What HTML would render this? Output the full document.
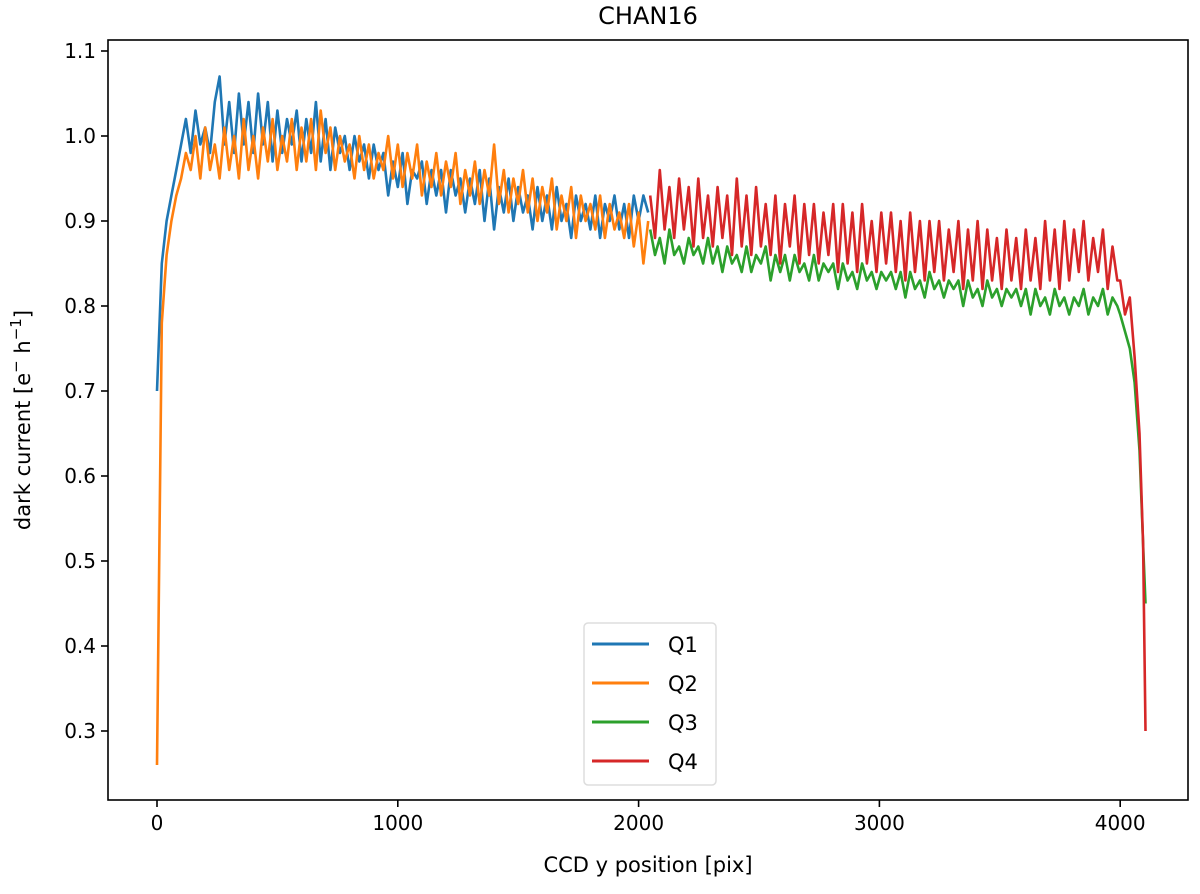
<!DOCTYPE html>
<html><head><meta charset="utf-8"><style>
body{margin:0;background:#fff}
svg text{font-family:"DejaVu Sans","Liberation Sans",sans-serif;fill:#000}
</style></head><body>
<svg id="chart" width="1200" height="889">
<text x="648" y="24" font-size="24" text-anchor="middle">CHAN16</text>
<g id="plot"></g>
<g id="axes"></g>
<text x="648" y="872" font-size="21" text-anchor="middle">CCD y position [pix]</text>
<text transform="translate(30,420) rotate(-90)" font-size="21" text-anchor="middle">dark current [e<tspan baseline-shift="super" font-size="15">−</tspan> h<tspan baseline-shift="super" font-size="15">−1</tspan>]</text>
<g>
<rect x="584" y="623" width="132" height="162" rx="4" fill="#fff" stroke="#ddd" stroke-width="1.5"/>
<line x1="592" x2="649" y1="644" y2="644" stroke="#1f77b4" stroke-width="3"/>
<text x="668" y="652" font-size="21">Q1</text>
<line x1="592" x2="649" y1="683" y2="683" stroke="#ff7f0e" stroke-width="3"/>
<text x="668" y="691" font-size="21">Q2</text>
<line x1="592" x2="649" y1="722" y2="722" stroke="#2ca02c" stroke-width="3"/>
<text x="668" y="730" font-size="21">Q3</text>
<line x1="592" x2="649" y1="761" y2="761" stroke="#d62728" stroke-width="3"/>
<text x="668" y="769" font-size="21">Q4</text>
</g>
</svg>
<script>
const xTicks=[0,1000,2000,3000,4000];
const yTicks=[0.3,0.4,0.5,0.6,0.7,0.8,0.9,1.0,1.1];
// Q1/Q2 sampled every 20 pix starting at 0
const q1y=[0.70,0.85,0.90,0.93,0.96,0.99,1.02,0.98,1.03,0.99,1.01,0.98,1.04,1.07,0.99,1.04,0.98,1.05,0.99,1.04,
0.98,1.05,0.99,1.04,0.97,1.03,0.98,1.02,0.99,1.03,
0.97,1.02,0.98,1.04,0.97,1.02,0.96,1.01,0.98,1.00,
0.96,1.00,0.97,0.99,0.95,0.99,0.96,0.98,0.93,0.97,
0.94,0.98,0.92,0.96,0.95,0.97,0.92,0.96,0.93,0.96,
0.91,0.96,0.93,0.95,0.91,0.95,0.92,0.96,0.90,0.95,
0.89,0.94,0.91,0.95,0.90,0.94,0.91,0.93,0.89,0.94,
0.90,0.93,0.89,0.94,0.90,0.92,0.88,0.93,0.90,0.92,
0.89,0.93,0.88,0.92,0.90,0.93,0.89,0.92,0.88,0.93,
0.90,0.93,0.91];
const q2y=[0.26,0.78,0.86,0.90,0.93,0.95,0.98,0.96,1.00,0.95,1.01,0.96,0.99,0.95,1.01,0.96,1.00,0.95,1.02,0.96,
1.00,0.95,1.01,0.97,1.02,0.96,1.00,0.97,1.02,0.96,
1.01,0.97,1.02,0.96,1.03,0.98,1.01,0.96,1.00,0.97,
0.99,0.95,1.00,0.96,0.99,0.95,0.98,0.96,1.00,0.95,
0.99,0.94,0.98,0.95,0.99,0.93,0.97,0.94,0.98,0.93,
0.97,0.94,0.98,0.92,0.96,0.93,0.97,0.92,0.96,0.93,
0.99,0.92,0.96,0.91,0.95,0.92,0.96,0.91,0.95,0.90,
0.94,0.91,0.95,0.89,0.93,0.90,0.94,0.88,0.93,0.90,
0.92,0.89,0.93,0.88,0.92,0.89,0.91,0.88,0.92,0.87,
0.91,0.85,0.90];
// Q3/Q4 sampled every 20 pix starting at 2048, then roll-off tail
const q3y=[0.89,0.86,0.88,0.85,0.89,0.86,0.87,0.85,0.88,0.86,
0.87,0.85,0.88,0.85,0.87,0.84,0.87,0.85,0.86,0.84,
0.87,0.84,0.86,0.85,0.87,0.83,0.86,0.84,0.86,0.83,
0.86,0.84,0.85,0.83,0.86,0.83,0.85,0.84,0.85,0.82,
0.85,0.83,0.84,0.82,0.85,0.83,0.84,0.82,0.84,0.83,
0.84,0.82,0.84,0.81,0.84,0.82,0.83,0.81,0.84,0.82,
0.83,0.81,0.83,0.82,0.83,0.80,0.83,0.81,0.82,0.80,
0.83,0.81,0.82,0.80,0.82,0.81,0.82,0.80,0.82,0.79,
0.82,0.80,0.81,0.79,0.82,0.80,0.81,0.79,0.81,0.80,
0.82,0.79,0.81,0.80,0.82,0.79,0.81,0.80];
const q4y=[0.93,0.88,0.96,0.89,0.94,0.88,0.95,0.89,0.94,0.87,
0.95,0.88,0.93,0.87,0.94,0.88,0.93,0.86,0.95,0.87,
0.93,0.86,0.94,0.87,0.92,0.86,0.93,0.85,0.92,0.87,
0.93,0.85,0.92,0.86,0.92,0.85,0.91,0.86,0.92,0.84,
0.92,0.85,0.91,0.84,0.92,0.85,0.90,0.84,0.91,0.85,
0.91,0.84,0.90,0.83,0.91,0.84,0.90,0.83,0.90,0.84,
0.90,0.83,0.89,0.84,0.90,0.82,0.89,0.83,0.90,0.82,
0.89,0.83,0.88,0.82,0.89,0.83,0.88,0.82,0.89,0.83,
0.88,0.82,0.90,0.83,0.89,0.82,0.90,0.83,0.89,0.84,
0.90,0.83,0.88,0.84,0.89,0.82,0.87,0.83];
const tailX=[4000,4020,4040,4060,4080,4095,4105];
const q3tail=[0.79,0.77,0.75,0.71,0.63,0.52,0.45];
const q4tail=[0.83,0.79,0.81,0.74,0.65,0.52,0.30];
const L=108,R=1188,T=40,B=800;
const xs=v=>157+v*0.2408;
const ys=v=>136-(v-1.0)*850;
const NS='http://www.w3.org/2000/svg';
const plot=document.getElementById('plot'),axes=document.getElementById('axes');
function mk(tag,attrs,parent){const e=document.createElementNS(NS,tag);for(const k in attrs)e.setAttribute(k,attrs[k]);parent.appendChild(e);return e;}
function pts(start,ys_,tx,ty){const a=ys_.map((v,i)=>[start+i*20,v]);if(tx)tx.forEach((x,i)=>a.push([x,ty[i]]));return a;}
const series=[[pts(0,q1y),'#1f77b4','series-q1'],[pts(0,q2y),'#ff7f0e','series-q2'],[pts(2048,q3y,tailX,q3tail),'#2ca02c','series-q3'],[pts(2048,q4y,tailX,q4tail),'#d62728','series-q4']];
series.forEach(s=>{
  const d=s[0].map((p,i)=>(i?'L':'M')+xs(p[0]).toFixed(1)+' '+ys(p[1]).toFixed(1)).join('');
  const p=mk('path',{d:d,fill:'none',stroke:s[1],'stroke-width':2.6,'stroke-linejoin':'round'},plot);
  
  
});
const fr=mk('rect',{x:L,y:T,width:R-L,height:B-T,fill:'none',stroke:'#000','stroke-width':1.6},axes);


xTicks.forEach(v=>{
  const x=xs(v);
  const t=mk('line',{x1:x,x2:x,y1:B,y2:B+7,stroke:'#000','stroke-width':1.6},axes);
  
  
  const tx=mk('text',{x:x,y:B+30,'font-size':20,'text-anchor':'middle'},axes);
  tx.textContent=v;
  
  
});
yTicks.forEach(v=>{
  const y=ys(v);
  const t=mk('line',{x1:L-7,x2:L,y1:y,y2:y,stroke:'#000','stroke-width':1.6},axes);
  
  
  const tx=mk('text',{x:L-12,y:y+7,'font-size':20,'text-anchor':'end'},axes);
  tx.textContent=v.toFixed(1);
  
  
});
</script>
</body></html>
